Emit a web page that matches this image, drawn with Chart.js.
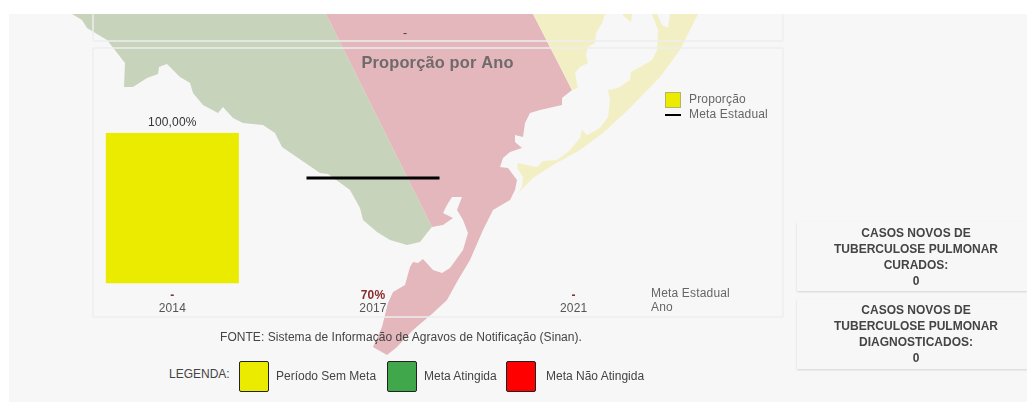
<!DOCTYPE html>
<html><head><meta charset="utf-8">
<script src="https://cdn.jsdelivr.net/npm/chart.js@4"></script>
<style>
html,body{margin:0;padding:0;background:#fff;overflow:hidden}
#page{position:absolute;left:9px;top:14px;width:1018px;height:388px;background:#f7f7f7}
#map{position:absolute;left:0;top:0;filter:blur(.5px)}
#cap{position:absolute;left:0;top:0;width:1027px;height:14px;background:#fff}
.panel{position:absolute;box-sizing:border-box;border:2px solid rgba(238,238,238,.75);border-radius:2px}
canvas#c{position:absolute;left:0;top:0}
.t{position:absolute;font-family:"Liberation Sans",Arial,sans-serif;font-size:12px;white-space:nowrap;color:#444}
.card{position:absolute;left:797px;width:238px;box-sizing:border-box;background:#f7f7f7;box-shadow:0 1px 2px rgba(0,0,0,.14);font:bold 12px/16px "Liberation Sans",Arial,sans-serif;color:#444;text-align:center;padding:3px 0 0 0}
.sw{position:absolute;top:361px;width:30px;height:31px;box-sizing:border-box;border:1px solid #222;border-radius:2px}
</style></head><body>
<div id="page"></div>
<svg id="map" width="1027" height="402" viewBox="0 0 1027 402">
<polygon fill="#c8d3bc" points="72,14 82,20 87,28 107,40 125,63 124,87 133,87 147,78 158,74 159,67 167,64 180,77 190,83 193,93 203,105 218,113 223,107 233,118 243,123 263,125 275,133 282,147 320,173 328,174 350,190 360,208 363,220 377,232 390,240 407,245 420,242 427,233 432,227 326,14"/>
<polygon fill="#e3b7bc" points="326,14 533,14 572,90 562,98 562,105 540,110 530,113 525,123 523,137 515,135 515,142 522,148 510,152 503,158 500,167 508,168 517,180 515,190 510,200 493,210 483,230 470,260 458,280 447,300 433,313 413,330 397,347 387,355 373,347 382,327 388,303 393,292 405,285 410,267 413,262 418,263 423,259 433,270 442,273 450,268 463,250 468,233 463,220 457,210 462,197 452,197 447,205 443,213 453,218 443,225 432,227"/>
<polygon fill="#f3efc4" points="533,14 605,14 602,23 596,33 595,43 588,47 586,55 588,63 580,67 575,73 578,88 572,90"/>
<polygon fill="#f3efc4" points="622,14 632,14 631,22 626,18"/>
<polygon fill="#f3efc4" points="652,14 658,30 657,50 652,60 640,67 631,72 630,80 618,88 608,90 610,100 608,117 600,128 587,135 582,130 580,138 568,152 557,160 543,161 537,167 527,165 518,163 517,168 523,177 522,187 518,193 533,178 553,165 580,150 603,133 630,108 660,77 680,50 698,14 670,14 668,28 662,25 657,14"/>
</svg>
<div id="cap"></div>
<div class="panel" style="left:92px;top:14px;width:692px;height:28px;border-top:none"></div>
<div class="panel" style="left:92px;top:47px;width:692px;height:271px"></div>
<div class="t" style="left:403px;top:26px">-</div>
<canvas id="c" width="875" height="353"></canvas>
<div class="t" style="left:220px;top:330px;letter-spacing:.05px">FONTE: Sistema de Informação de Agravos de Notificação (Sinan).</div>
<div class="t" style="left:169px;top:367px">LEGENDA:</div>
<div class="sw" style="left:239px;background:#ebeb00"></div>
<div class="t" style="left:276px;top:369px">Período Sem Meta</div>
<div class="sw" style="left:387px;background:#41a74b"></div>
<div class="t" style="left:424px;top:369px">Meta Atingida</div>
<div class="sw" style="left:506px;background:#ff0000"></div>
<div class="t" style="left:546px;top:369px">Meta Não Atingida</div>
<div class="card" style="top:222px;height:69px">CASOS NOVOS DE<br>TUBERCULOSE PULMONAR<br>CURADOS:<br>0</div>
<div class="card" style="top:299px;height:70px">CASOS NOVOS DE<br>TUBERCULOSE PULMONAR<br>DIAGNOSTICADOS:<br>0</div>
<script>
const years = ['2014','2017','2021'];
const metaLabels = ['-','70%','-'];
const proporcao = [100,null,null];
const metaEstadual = [null,70,null];
const proporcaoLabels = ['100,00%',null,null];
const rowLabels = ['Meta Estadual','Ano'];

const canvas = document.getElementById('c');
const FONT = '"Liberation Sans",Arial,sans-serif';

function swatch(w,h,draw){
  const s=document.createElement('canvas'); s.width=w; s.height=h;
  draw(s.getContext('2d')); return s;
}
const barSwatch = swatch(16,16,g=>{g.fillStyle='#b5b56a';g.fillRect(0,0,16,16);g.fillStyle='#ebeb00';g.fillRect(1,1,14,14);});
const lineSwatch = swatch(16,2,g=>{g.fillStyle='#000';g.fillRect(0,0,16,2);});

const extras = {
  id:'extras',
  afterLayout(chart){
    const l = chart.legend;
    l.left = 660; l.right = 780; l.top = 91; l.bottom = 124;
    const t = chart.titleBlock;
    t.left = 0; t.right = 875;
  },
  beforeDraw(chart){ chart.ctx.letterSpacing='0.17px'; },
  afterDatasetsDraw(chart){
    const {ctx} = chart;
    ctx.save();
    ctx.font = '12px '+FONT; ctx.fillStyle='#333'; ctx.textAlign='center'; ctx.textBaseline='bottom';
    chart.getDatasetMeta(0).data.forEach((b,i)=>{
      if(proporcaoLabels[i]) ctx.fillText(proporcaoLabels[i], b.x, b.y-4);
    });
    ctx.fillStyle='#666'; ctx.textAlign='left'; ctx.textBaseline='middle';
    ctx.fillText(rowLabels[0], 651, 294);
    ctx.fillText(rowLabels[1], 651, 308);
    ctx.restore();
  }
};
new Chart(canvas,{
  type:'bar',
  data:{labels:years,datasets:[
    {type:'bar',label:'Proporção',data:proporcao,backgroundColor:'#ebeb00',borderWidth:0,barPercentage:1,categoryPercentage:0.663,order:2},
    {type:'line',label:'Meta Estadual',data:metaEstadual,showLine:false,pointStyle:'line',pointRadius:66.5,pointHoverRadius:66.5,pointBorderWidth:3,borderColor:'#000',backgroundColor:'#000',order:1}
  ]},
  options:{
    responsive:false,animation:false,devicePixelRatio:1,
    layout:{padding:{left:72,right:201,top:0,bottom:4}},
    plugins:{
      title:{display:true,text:'Proporção por Ano',color:'#6f6a6a',font:{family:FONT,size:16.4,weight:'bold'},padding:{top:54,bottom:59}},
      legend:{display:true,position:'chartArea',align:'start',labels:{
        boxWidth:20,boxHeight:12,pointStyleWidth:20,padding:3,color:'#666',font:{family:FONT,size:12},usePointStyle:true,
        generateLabels(){return [
          {text:'Proporção',fontColor:'#666',fillStyle:'#ebeb00',strokeStyle:'#b5b56a',lineWidth:1,pointStyle:barSwatch,datasetIndex:0},
          {text:'Meta Estadual',fontColor:'#666',fillStyle:'#000',strokeStyle:'#000',lineWidth:2,pointStyle:lineSwatch,datasetIndex:1}
        ];}
      }},
      tooltip:{enabled:false}
    },
    scales:{
      x:{type:'category',position:'bottom',labels:metaLabels,grid:{display:false,drawTicks:false},border:{display:false},
        afterFit(scale){scale.height=18;},
        ticks:{color:'#8c2a2f',font:{family:FONT,size:12,weight:'bold'},padding:5,maxRotation:0,autoSkip:false}},
      x2:{type:'category',position:'bottom',labels:years,grid:{display:false,drawTicks:false},border:{display:false},
        ticks:{color:'#555',font:{family:FONT,size:12},padding:0,maxRotation:0,autoSkip:false}},
      y:{display:false,min:0,max:100}
    }
  },
  plugins:[extras]
});
</script>
</body></html>
